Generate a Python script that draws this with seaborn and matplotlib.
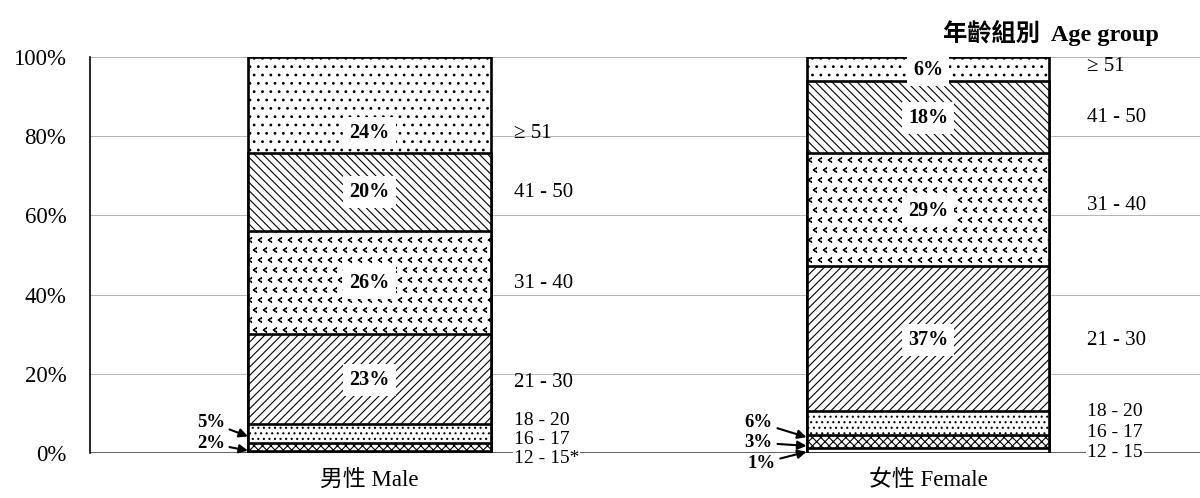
import numpy as np
import pandas as pd
import matplotlib
matplotlib.use("Agg")
import matplotlib.pyplot as plt
import matplotlib.hatch as mhatch
from matplotlib.path import Path
import seaborn as sns

# ---------------- data ----------------
sexes = ["男性 Male", "女性 Female"]
age_groups = ["12 - 15", "16 - 17", "18 - 20", "21 - 30", "31 - 40", "41 - 50", "≥ 51"]
male_pct = [0.4, 2.2, 4.6, 22.9, 25.9, 19.8, 24.2]
female_pct = [1.3, 3.3, 6.0, 36.6, 28.6, 18.1, 6.1]
male_labels = ["", "2%", "5%", "23%", "26%", "20%", "24%"]
female_labels = ["1%", "3%", "6%", "37%", "29%", "18%", "6%"]
male_group_text = ["12 - 15*", "16 - 17", "18 - 20", "21 - 30", "31 - 40", "41 - 50", "≥ 51"]
female_group_text = ["12 - 15", "16 - 17", "18 - 20", "21 - 30", "31 - 40", "41 - 50", "≥ 51"]
y_ticks = [0, 20, 40, 60, 80, 100]
legend_title = "年齡組別  Age group"

# ---------------- custom chevron hatch (replaces 'o') ----------------
class Chevrons(mhatch.Shapes):
    filled = False
    size = 0.45

    def __init__(self, hatch, density):
        self.num_rows = hatch.count('o') * 10
        self.shape_vertices = np.array([[0.35, 0.5], [-0.35, 0.0], [0.35, -0.5]])
        self.shape_codes = np.array([Path.MOVETO, Path.LINETO, Path.LINETO],
                                    dtype=Path.code_type)
        super().__init__(hatch, density)

mhatch._hatch_types = [Chevrons if c is mhatch.SmallCircles else c
                       for c in mhatch._hatch_types]

# ---------------- style ----------------
sns.set_style("white")
plt.rcParams['font.family'] = ['Liberation Serif', 'Noto Sans CJK TC', 'DejaVu Sans']
plt.rcParams['hatch.linewidth'] = 0.8
plt.rcParams['hatch.color'] = 'black'
plt.rcParams['text.color'] = 'black'
plt.rcParams['xtick.color'] = 'black'
plt.rcParams['ytick.color'] = 'black'
plt.rcParams['xtick.labelcolor'] = 'black'
plt.rcParams['ytick.labelcolor'] = 'black'

fig = plt.figure(figsize=(12, 4.98), dpi=100)
ax = fig.add_axes([0.075, 1 - 453 / 498, 0.925, 396 / 498])

hatches = ['', 'xxxx', '...', '////', 'o', '\\\\\\\\', '..']

rows = []
for sex, vals in zip(sexes, [male_pct, female_pct]):
    cum = np.cumsum(vals)
    for g, c in zip(age_groups, cum):
        rows.append({"sex": sex, "group": g, "cum": c})
df = pd.DataFrame(rows)

bar_w = 0.435
for i in reversed(range(len(age_groups))):
    sub = df[df["group"] == age_groups[i]]
    sns.barplot(data=sub, x="sex", y="cum", order=sexes, color="white",
                saturation=1, edgecolor="black", linewidth=1.9,
                hatch=hatches[i], width=bar_w, errorbar=None, ax=ax, zorder=2)

ax.set_xlim(-0.5004, 1.487)
ax.set_ylim(0, 100)
ax.set_yticks(y_ticks)
ax.set_yticklabels([f"{t}%" for t in y_ticks])
ax.set_xlabel("")
ax.set_ylabel("")
ax.yaxis.grid(True, color="#b4b4b4", linewidth=0.7, zorder=0)
ax.xaxis.grid(False)
ax.set_axisbelow(True)
gl = ax.get_ygridlines()
gl[0].set_color("#606060")
gl[0].set_linewidth(1.4)
for s in ["top", "right", "bottom"]:
    ax.spines[s].set_visible(False)
ax.spines["left"].set_color("black")
ax.spines["left"].set_linewidth(1.2)
ax.tick_params(axis="y", length=0, pad=17, labelsize=16.5, labelcolor="black")
ax.tick_params(axis="x", length=0, pad=12, labelsize=16.5, labelcolor="black")

# ---------------- labels (layout positions in % of axis) ----------------
male_in_y = [None, None, None, 18.4, 42.9, 65.9, 80.8]
female_in_y = [None, None, None, 28.5, 61.1, 84.6, 96.7]
male_grp_y = [-1.3, 3.5, 8.3, 17.9, 42.9, 65.9, 80.8]
female_grp_y = [0.25, 5.1, 10.4, 28.5, 62.4, 84.6, 97.5]

box = dict(boxstyle="square,pad=0.3", fc="white", ec="none")
pct_font = dict(fontsize=14.5, fontweight="bold", ha="center", va="center",
                zorder=5, color="black")
for xc, labs, ys in [(0, male_labels, male_in_y), (1, female_labels, female_in_y)]:
    for lab, yy in zip(labs, ys):
        if yy is not None and lab:
            ax.text(xc, yy, lab, bbox=box, **pct_font)

grp_box = dict(boxstyle="square,pad=0.05", fc="white", ec="none")
for xl, texts, ys in [(0.259, male_group_text, male_grp_y),
                      (1.285, female_group_text, female_grp_y)]:
    for k, (t, yy) in enumerate(zip(texts, ys)):
        ax.text(xl, yy, t, fontsize=15 if k > 2 else 14, ha="left", va="center",
                bbox=grp_box if k == 0 else None, color="black",
                zorder=5 if k == 0 else 6, clip_on=False)

# arrows for thin segments
arrow = dict(arrowstyle="-|>", color="black", lw=1.5, shrinkA=1, shrinkB=0,
             mutation_scale=13)
male_edge = 0 - bar_w / 2
female_edge = 1 - bar_w / 2
arrow_specs = [
    (male_labels[2], (male_edge, 4.2), (-0.284, 7.7)),
    (male_labels[1], (male_edge, 0.6), (-0.284, 2.4)),
    (female_labels[2], (female_edge, 4.0), (0.697, 7.7)),
    (female_labels[1], (female_edge, 1.8), (0.697, 2.6)),
    (female_labels[0], (female_edge, 0.3), (0.702, -2.6)),
]
for lab, xy, xyt in arrow_specs:
    ax.annotate(lab, xy=xy, xytext=xyt, textcoords="data", fontsize=13.5,
                fontweight="bold", ha="center", va="center", color="black",
                arrowprops=arrow, annotation_clip=False, zorder=6)

fig.text(0.876, 1 - 33 / 498, legend_title, fontsize=17.5, fontweight="bold",
         ha="center", va="center", color="black")

fig.savefig("out.png", dpi=100)
